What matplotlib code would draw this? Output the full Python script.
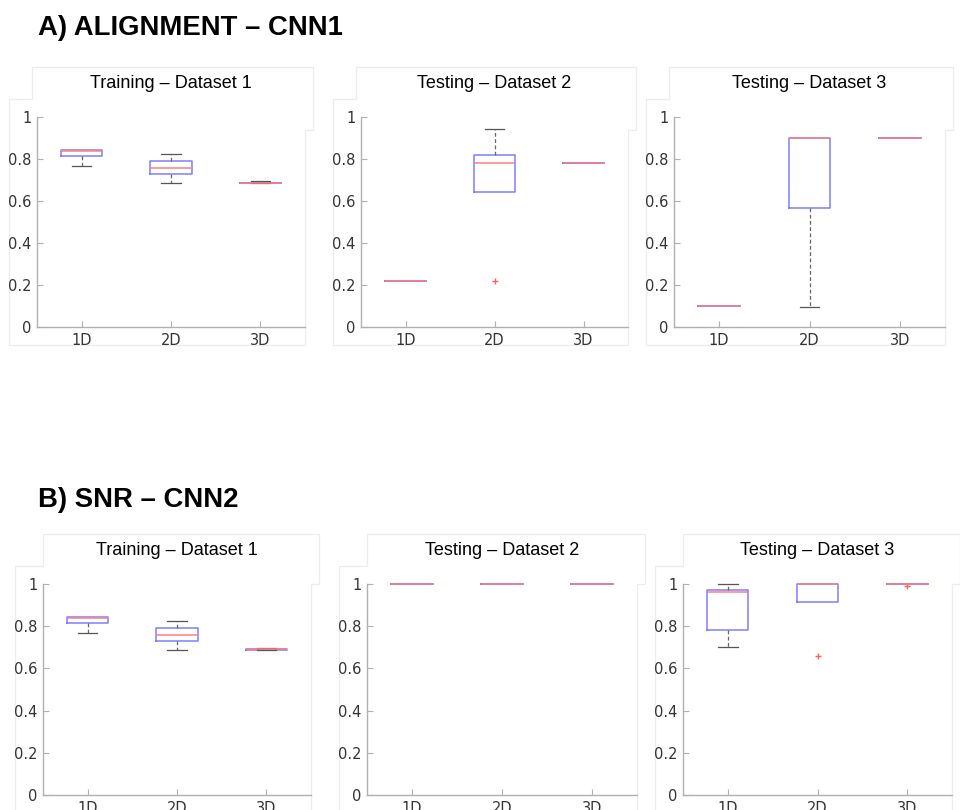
import matplotlib
matplotlib.use("Agg")
import matplotlib.pyplot as plt
from matplotlib.lines import Line2D

categories = ['1D', '2D', '3D']

# each entry: (whisker low, q1, median, q3, whisker high)
align_train = [(0.768, 0.812, 0.836, 0.844, 0.844),
               (0.685, 0.728, 0.758, 0.790, 0.822),
               (0.685, 0.686, 0.687, 0.688, 0.694)]
align_train_fliers = [[], [], []]

align_test2 = [(0.22, 0.22, 0.22, 0.22, 0.22),
               (0.642, 0.642, 0.782, 0.821, 0.943),
               (0.782, 0.782, 0.782, 0.782, 0.782)]
align_test2_fliers = [[], [0.22], []]

align_test3 = [(0.10, 0.10, 0.10, 0.10, 0.10),
               (0.097, 0.568, 0.90, 0.902, 0.902),
               (0.90, 0.90, 0.90, 0.90, 0.90)]
align_test3_fliers = [[], [], []]

snr_train = [(0.770, 0.813, 0.837, 0.842, 0.842),
             (0.687, 0.729, 0.759, 0.791, 0.823),
             (0.688, 0.689, 0.690, 0.691, 0.696)]
snr_train_fliers = [[], [], []]

snr_test2 = [(1.0, 1.0, 1.0, 1.0, 1.0),
             (1.0, 1.0, 1.0, 1.0, 1.0),
             (1.0, 1.0, 1.0, 1.0, 1.0)]
snr_test2_fliers = [[], [], []]

snr_test3 = [(0.70, 0.782, 0.962, 0.970, 1.0),
             (0.916, 0.916, 1.0, 1.0, 1.0),
             (1.0, 1.0, 1.0, 1.0, 1.0)]
snr_test3_fliers = [[], [0.66], [0.992]]

panel_titles = ['Training – Dataset 1', 'Testing – Dataset 2', 'Testing – Dataset 3']
section_titles = ['A) ALIGNMENT – CNN1', 'B) SNR – CNN2']

rows = [[(align_train, align_train_fliers), (align_test2, align_test2_fliers), (align_test3, align_test3_fliers)],
        [(snr_train, snr_train_fliers), (snr_test2, snr_test2_fliers), (snr_test3, snr_test3_fliers)]]

# axes boxes in pixels: left, top(y=1), width
W, H = 960, 810
row_geom = [dict(top=117, height=210, lefts=[37, 361, 674], widths=[268, 267, 271], hdr=-5, notch=13),
            dict(top=584, height=211, lefts=[43, 367, 683], widths=[268, 270, 269], hdr=0, notch=0)]


def frame(fig, left, top, width, height, hdr, notch):
    # faint window outline around each panel, as in the screenshot
    right = left + width
    bottom = top + height
    xs = [left - 28, left - 28, left + hdr, left + hdr, right + 8, right + 8, right, right, left - 28]
    ys = [bottom + 18, top - 18, top - 18, top - 50, top - 50, top + notch, top + notch, bottom + 18, bottom + 18]
    fig.add_artist(Line2D([x / W for x in xs], [1 - y / H for y in ys], color='#ededed',
                          linewidth=0.9, transform=fig.transFigure, zorder=0))


fig = plt.figure(figsize=(9.6, 8.1), dpi=100)

for r, row in enumerate(rows):
    g = row_geom[r]
    for c, (stats_in, fliers) in enumerate(row):
        frame(fig, g['lefts'][c], g['top'], g['widths'][c], g['height'], g['hdr'], g['notch'])
        left = g['lefts'][c] / W
        bottom = (H - g['top'] - g['height']) / H
        ax = fig.add_axes([left, bottom, g['widths'][c] / W, g['height'] / H])
        ax.patch.set_alpha(0)
        stats = []
        for (lo, q1, med, q3, hi), fl in zip(stats_in, fliers):
            stats.append(dict(whislo=lo, q1=q1, med=med, q3=q3, whishi=hi, fliers=fl))
        art = ax.bxp(stats, positions=[1, 2, 3], widths=0.46, capwidths=0.22,
                     boxprops=dict(color='#7f7fff', linewidth=1.1),
                     medianprops=dict(color='#ff7f7f', linewidth=1.1),
                     whiskerprops=dict(color='#666666', linewidth=0.9, linestyle=(0, (3, 2))),
                     capprops=dict(color='#555555', linewidth=0.9),
                     flierprops=dict(marker='+', markeredgecolor='#ff6060', markersize=5,
                                     linestyle='none'))
        for key in art:
            for a in art[key]:
                a.set_clip_on(False)
        # hide caps that sit on the box edge (no whisker)
        for i, (lo, q1, med, q3, hi) in enumerate(stats_in):
            if lo == q1:
                art['caps'][2 * i].set_visible(False)
            if hi == q3:
                art['caps'][2 * i + 1].set_visible(False)
        ax.set_xlim(0.5, 3.5)
        ax.set_ylim(0, 1)
        ax.set_xticks([1, 2, 3])
        ax.set_xticklabels(categories)
        ax.set_yticks([0, 0.2, 0.4, 0.6, 0.8, 1.0])
        ax.set_yticklabels(['0', '0.2', '0.4', '0.6', '0.8', '1'])
        for s in ['top', 'right']:
            ax.spines[s].set_visible(False)
        for s in ['left', 'bottom']:
            ax.spines[s].set_color('#b0b0b0')
            ax.spines[s].set_linewidth(1.0)
        ax.tick_params(direction='in', length=4, width=0.8, color='#b0b0b0',
                       labelsize=10.5, labelcolor='#333333', pad=4)
        ax.set_title(panel_titles[c], fontsize=13, family='Liberation Sans', pad=21)

fig.text(38 / W, 1 - 28 / H, section_titles[0], fontsize=19.8, fontweight='bold',
         family='Liberation Sans', va='center', ha='left')
fig.text(38 / W, 1 - 500 / H, section_titles[1], fontsize=19.8, fontweight='bold',
         family='Liberation Sans', va='center', ha='left')

fig.savefig('out.png', dpi=100)
